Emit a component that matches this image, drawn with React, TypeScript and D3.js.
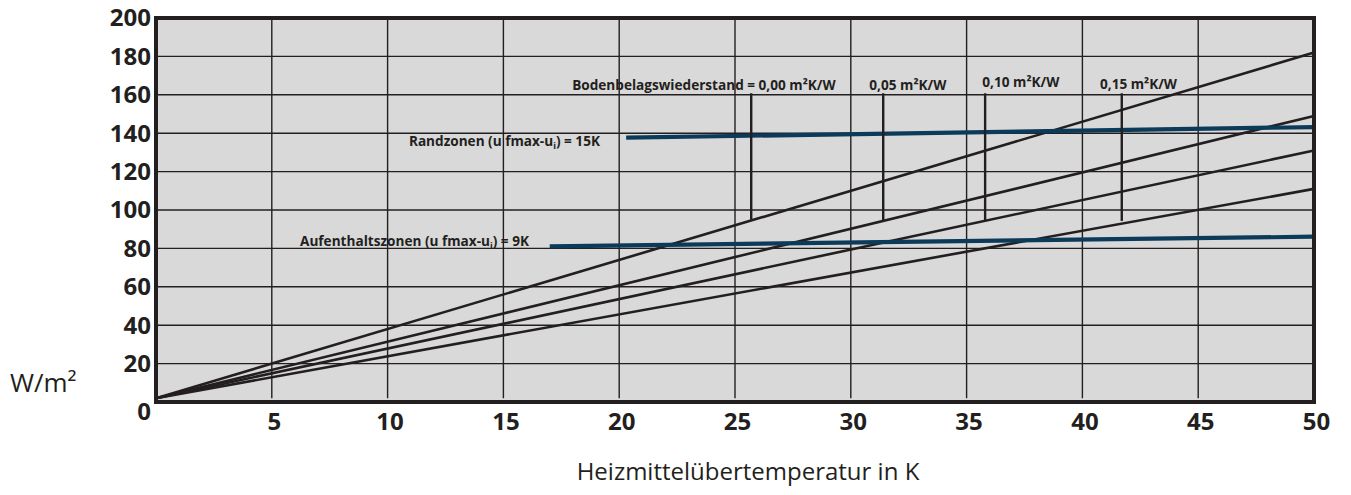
import React from "react";
import * as d3 from "d3";

const xTicks = [5, 10, 15, 20, 25, 30, 35, 40, 45, 50];
const yTicks = [20, 40, 60, 80, 100, 120, 140, 160, 180, 200];
const yGrid = [20, 40, 60, 80, 100, 120, 140, 160, 180];
const xGrid = [5, 10, 15, 20, 25, 30, 35, 40, 45];

// floor resistance lines: value at 0 K and at 50 K
const resistances = ["0,00", "0,05", "0,10", "0,15"];
const resStart = [2, 2, 2, 2];
const resEnd = [182, 149, 131, 111];

// zone limit lines
const zoneNames = ["Randzonen", "Aufenthaltszonen"];
const zoneX0 = [20.3, 17.0];
const zoneY0 = [137.7, 81.1];
const zoneY1 = [143.2, 86.1];

// marker positions for resistance labels
const markerX = [25.7, 31.4, 35.8, 41.7];
const markerLow = [95, 94.3, 94.5, 94.3];
const markerHigh = [160.8, 160.8, 160.8, 160.8];

const W = 1351;
const H = 495;
const ink = "#231f20";
const navy = "#0c3a5a";
const font = "'Open Sans', sans-serif";

export default function App() {
  const x = d3.scaleLinear().domain([0, 50]).range([156, 1314]);
  const y = d3.scaleLinear().domain([0, 200]).range([402, 18]);
  const line = d3
    .line<[number, number]>()
    .x((d) => x(d[0]))
    .y((d) => y(d[1]));

  const resLabelPos: [number, number][] = [
    [17.97, 165],
    [30.8, 165],
    [35.68, 166.3],
    [40.76, 165.6],
  ];

  return (
    <div style={{ position: "absolute", left: 0, top: 0 }}>
      <svg width={W} height={H} style={{ display: "block", fontFamily: font }}>
        <rect x={x(0)} y={y(200)} width={x(50) - x(0)} height={y(0) - y(200)} fill="#d9d9d9" />
        {yGrid.map((v) => (
          <line key={"hy" + v} x1={x(0)} x2={x(50)} y1={y(v)} y2={y(v)} stroke={ink} strokeWidth={1.4} />
        ))}
        {xGrid.map((v) => (
          <line key={"vx" + v} x1={x(v)} x2={x(v)} y1={y(200)} y2={y(2)} stroke={ink} strokeWidth={1.4} />
        ))}
        {resistances.map((r, i) => (
          <path
            key={"res" + r}
            d={line([
              [0, resStart[i]],
              [50, resEnd[i]],
            ]) || ""}
            fill="none"
            stroke={ink}
            strokeWidth={2.6}
          />
        ))}
        {zoneNames.map((n, i) => (
          <path
            key={"zone" + n}
            d={line([
              [zoneX0[i], zoneY0[i]],
              [50, zoneY1[i]],
            ]) || ""}
            fill="none"
            stroke={navy}
            strokeWidth={4.2}
          />
        ))}
        {markerX.map((v, i) => (
          <line
            key={"m" + i}
            x1={x(v)}
            x2={x(v)}
            y1={y(markerLow[i])}
            y2={y(markerHigh[i])}
            stroke={ink}
            strokeWidth={2.4}
          />
        ))}
        <rect
          x={x(0)}
          y={y(200)}
          width={x(50) - x(0)}
          height={y(0) - y(200)}
          fill="none"
          stroke={ink}
          strokeWidth={4}
        />
        {/* y tick labels */}
        {yTicks.map((v) => (
          <text
            key={"yt" + v}
            x={151}
            y={y(v)}
            dy="0.35em"
            textAnchor="end"
            fontSize={24}
            fontWeight={700}
            fill={ink}
          >
            {v}
          </text>
        ))}
        <text x={151} y={y(0) + 10} dy="0.35em" textAnchor="end" fontSize={24} fontWeight={700} fill={ink}>
          0
        </text>
        {xTicks.map((v) => (
          <text
            key={"xt" + v}
            x={x(v) + 2.5}
            y={421.7}
            dy="0.35em"
            textAnchor="middle"
            fontSize={24}
            fontWeight={700}
            fill={ink}
          >
            {v}
          </text>
        ))}
        <text x={10} y={383} dy="0.35em" fontSize={26} fill={ink}>
          W/m²
        </text>
        <text x={748} y={472} dy="0.35em" textAnchor="middle" fontSize={24} fill={ink}>
          Heizmittelübertemperatur in K
        </text>
        {/* annotations */}
        {resistances.map((r, i) => (
          <text
            key={"rl" + r}
            x={x(resLabelPos[i][0])}
            y={y(resLabelPos[i][1])}
            dy="0.35em"
            fontSize={13.6}
            fontWeight={700}
            fill={ink}
          >
            {(i === 0 ? "Bodenbelagswiederstand = " : "") + r + " m²K/W"}
          </text>
        ))}
        <text x={x(10.92)} y={y(135.6)} dy="0.35em" fontSize={13.6} fontWeight={700} fill={ink}>
          {"Randzonen (u fmax-u"}
          <tspan fontSize={9} dy="3">i</tspan>
          <tspan dy="-3">{") = 15K"}</tspan>
        </text>
        <text x={x(6.22)} y={y(83.5)} dy="0.35em" fontSize={13.6} fontWeight={700} fill={ink}>
          {"Aufenthaltszonen (u fmax-u"}
          <tspan fontSize={9} dy="3">i</tspan>
          <tspan dy="-3">{") = 9K"}</tspan>
        </text>
      </svg>
    </div>
  );
}
